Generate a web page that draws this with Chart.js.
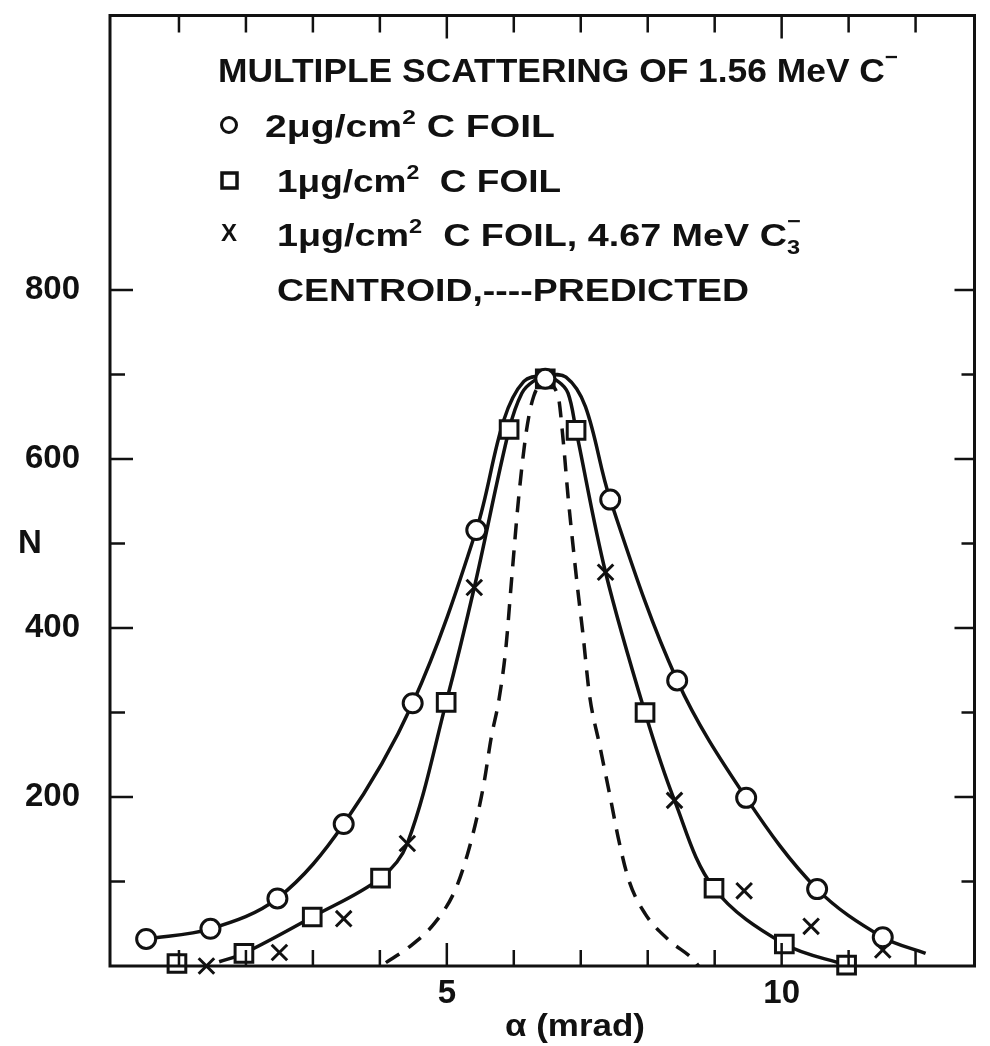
<!DOCTYPE html>
<html lang="en">
<head>
<meta charset="UTF-8">
<title>Multiple scattering of 1.56 MeV C-</title>
<script src="https://cdn.jsdelivr.net/npm/chart.js"></script>
<style>
  * { box-sizing: border-box; margin: 0; padding: 0; }
  body { background: #fff; }
  #wrap { position: relative; width: 990px; height: 1046px; }
</style>
</head>
<body>
<div id="wrap"><canvas id="grafico"></canvas></div>
<script>
// points (alpha in mrad, N counts)
const circX = [0.51, 1.47, 2.47, 3.46, 4.49, 5.44, 6.47, 7.44, 8.44, 9.47, 10.53, 11.51];
const circN = [32, 44, 80, 168, 311, 516, 695, 552, 338, 199, 91, 34];

const sqX = [0.97, 1.97, 2.99, 4.01, 4.99, 5.93, 6.47, 6.93, 7.96, 8.99, 10.04, 10.97];
const sqN = [3, 15, 58, 104, 312, 635, 695, 634, 300, 92, 26, 1];

const crossX = [1.41, 2.5, 3.46, 4.41, 5.41, 7.37, 8.4, 9.44, 10.44, 11.51];
const crossN = [0, 16, 56, 145, 448, 466, 196, 89, 47, 19];

// hand drawn curves, points picked along each line
const curve2X = [0.51, 1.47, 2.47, 3.46, 4.49, 5.44, 5.85, 6.15, 6.47, 6.78, 7.07, 7.44, 8.44, 9.47, 10.53, 11.51, 12.15];
const curve2N = [32, 44, 80, 168, 311, 516, 646, 692, 699, 697, 662, 552, 338, 199, 91, 34, 15];

const curve1X = [1.6, 1.97, 2.99, 4.01, 4.41, 4.99, 5.41, 5.93, 6.12, 6.29, 6.47, 6.66, 6.81, 6.93, 7.37, 7.96, 8.4, 8.99, 10.04, 10.97];
const curve1N = [5, 15, 58, 104, 145, 312, 448, 635, 678, 692, 697, 692, 678, 634, 466, 300, 196, 92, 26, 1];

const predX = [4.09, 4.43, 4.82, 5.12, 5.3, 5.47, 5.56, 5.66, 5.78, 5.88, 5.97, 6.07, 6.19, 6.3, 6.47,
               6.66, 6.74, 6.81, 6.88, 6.96, 7.03, 7.13, 7.28, 7.43, 7.57, 7.72, 7.96, 8.31, 8.69, 8.76];
const predN = [4, 22, 51, 89, 130, 183, 219, 269, 316, 375, 460, 552, 634, 675, 690,
               675, 620, 556, 501, 442, 395, 321, 262, 204, 148, 101, 62, 31, 7, 0];

// axes
const xTicks = [1, 2, 3, 4, 5, 6, 7, 8, 9, 10, 11, 12];
const xTickLabels = [5, 10];
const yTicks = [100, 200, 300, 400, 500, 600, 700, 800];
const yTickLabels = [200, 400, 600, 800];

const ink = '#111';
const FONT = '"Liberation Sans", Arial, sans-serif';

function pts(xs, ys) {
    return xs.map((x, i) => ({ x: x, y: ys[i] }));
}

// text with super/subscripts, squeezed to a given width
function drawRuns(ctx, x, y, runs, width, size) {
    const big = 'bold ' + size + 'px ' + FONT;
    const small = 'bold ' + Math.round(size * 0.64) + 'px ' + FONT;
    let natural = 0;
    runs.forEach(r => {
        ctx.font = r.s ? small : big;
        r.w = ctx.measureText(r.t).width;
        natural += r.w;
    });
    const sx = width ? width / natural : 1;
    ctx.save();
    ctx.translate(x, y);
    ctx.scale(sx, 1);
    ctx.textAlign = 'left';
    ctx.textBaseline = 'alphabetic';
    let cx = 0;
    runs.forEach(r => {
        ctx.font = r.s ? small : big;
        let dy = 0;
        if (r.s === 'sup') dy = -size * 0.42;
        if (r.s === 'bar') dy = -size * 0.55;
        if (r.s === 'sub') dy = size * 0.25;
        ctx.fillText(r.t, cx, dy);
        if (r.over) ctx.fillText(r.over, cx, -size * 0.55);
        cx += r.w;
    });
    ctx.restore();
}

const framePlugin = {
    id: 'frame',
    afterDatasetsDraw(chart) {
        const ctx = chart.ctx;
        const a = chart.chartArea;
        const xs = chart.scales.x, ys = chart.scales.y;
        ctx.save();
        ctx.strokeStyle = ink;
        ctx.lineWidth = 3;
        ctx.strokeRect(a.left, a.top, a.right - a.left, a.bottom - a.top);

        ctx.lineWidth = 2.5;
        ctx.beginPath();
        xTicks.forEach(v => {
            const px = xs.getPixelForValue(v);
            const major = v % 5 === 0;
            ctx.moveTo(px, a.bottom);
            ctx.lineTo(px, a.bottom - (major ? 23 : 16));
            ctx.moveTo(px, a.top);
            ctx.lineTo(px, a.top + (major ? 23 : 17));
        });
        yTicks.forEach(v => {
            const py = ys.getPixelForValue(v);
            const major = v % 200 === 0;
            ctx.moveTo(a.left, py);
            ctx.lineTo(a.left + (major ? 23 : 15), py);
            ctx.moveTo(a.right, py);
            ctx.lineTo(a.right - (major ? 20 : 13), py);
        });
        ctx.stroke();
        ctx.restore();
    },
    afterDraw(chart) {
        const ctx = chart.ctx;
        const a = chart.chartArea;
        const xs = chart.scales.x, ys = chart.scales.y;
        ctx.save();
        ctx.fillStyle = ink;
        ctx.strokeStyle = ink;

        // tick labels
        ctx.font = 'bold 33px ' + FONT;
        ctx.textAlign = 'right';
        ctx.textBaseline = 'middle';
        yTickLabels.forEach(v => ctx.fillText(String(v), 80, ys.getPixelForValue(v)));
        ctx.textAlign = 'center';
        xTickLabels.forEach(v => ctx.fillText(String(v), xs.getPixelForValue(v), a.bottom + 28));

        // axis titles
        ctx.fillText('N', 30, ys.getPixelForValue(500));
        drawRuns(ctx, 505, 1036, [{ t: 'α (mrad)' }], 140, 32);

        // legend block
        drawRuns(ctx, 218, 82, [{ t: 'MULTIPLE SCATTERING OF 1.56 MeV C' }, { t: '−', s: 'bar' }], 680, 33);

        ctx.lineWidth = 3;
        ctx.beginPath();
        ctx.arc(229, 125, 7.5, 0, Math.PI * 2);
        ctx.stroke();
        drawRuns(ctx, 265, 137, [{ t: '2μg/cm' }, { t: '2', s: 'sup' }, { t: ' C FOIL' }], 290, 32);

        ctx.lineWidth = 3.5;
        ctx.strokeRect(222, 173, 15, 15);
        drawRuns(ctx, 277, 192, [{ t: '1μg/cm' }, { t: '2', s: 'sup' }, { t: '  C FOIL' }], 284, 32);

        ctx.font = 'bold 24px ' + FONT;
        ctx.textAlign = 'center';
        ctx.textBaseline = 'middle';
        ctx.fillText('X', 229, 234);
        drawRuns(ctx, 277, 246, [{ t: '1μg/cm' }, { t: '2', s: 'sup' }, { t: '  C FOIL, 4.67 MeV C' },
                                 { t: '3', s: 'sub', over: '−' }], 523, 32);

        drawRuns(ctx, 277, 301, [{ t: 'CENTROID,----PREDICTED' }], 472, 32);
        ctx.restore();
    }
};

const lineStyle = {
    showLine: true,
    pointRadius: 0,
    borderColor: ink,
    borderWidth: 3.5,
    fill: false,
    tension: 0.35,
    clip: false,
    order: 2
};

const markStyle = {
    showLine: false,
    pointBorderColor: ink,
    pointBackgroundColor: '#fff',
    pointBorderWidth: 3,
    clip: false,
    order: 0
};

const ctx = document.getElementById('grafico').getContext('2d');

const grafico = new Chart(ctx, {
    type: 'scatter',
    data: {
        datasets: [
            Object.assign({ label: '2 ug/cm2 C foil', data: pts(circX, circN), pointStyle: 'circle', pointRadius: 9.5 }, markStyle),
            Object.assign({ label: '1 ug/cm2 C foil', data: pts(sqX, sqN), pointStyle: 'rect', pointRadius: 12.5 }, markStyle),
            Object.assign({ label: '1 ug/cm2 C foil, 4.67 MeV C3-', data: pts(crossX, crossN), pointStyle: 'crossRot', pointRadius: 11 }, markStyle),
            Object.assign({ label: 'centroid 2 ug', data: pts(curve2X, curve2N) }, lineStyle),
            Object.assign({ label: 'centroid 1 ug', data: pts(curve1X, curve1N) }, lineStyle),
            Object.assign({ label: 'predicted', data: pts(predX, predN), borderDash: [16, 11] }, lineStyle,
                          { tension: 0, cubicInterpolationMode: 'monotone' })
        ]
    },
    options: {
        responsive: true,
        maintainAspectRatio: false,
        animation: false,
        layout: { padding: { left: 110, right: 2, top: 10, bottom: 80 } },
        scales: {
            x: { type: 'linear', min: -0.03, max: 12.88, display: false },
            y: { type: 'linear', min: 0, max: 1125, display: false }
        },
        plugins: {
            legend: { display: false },
            tooltip: { enabled: false }
        }
    },
    plugins: [framePlugin]
});
</script>
</body>
</html>
